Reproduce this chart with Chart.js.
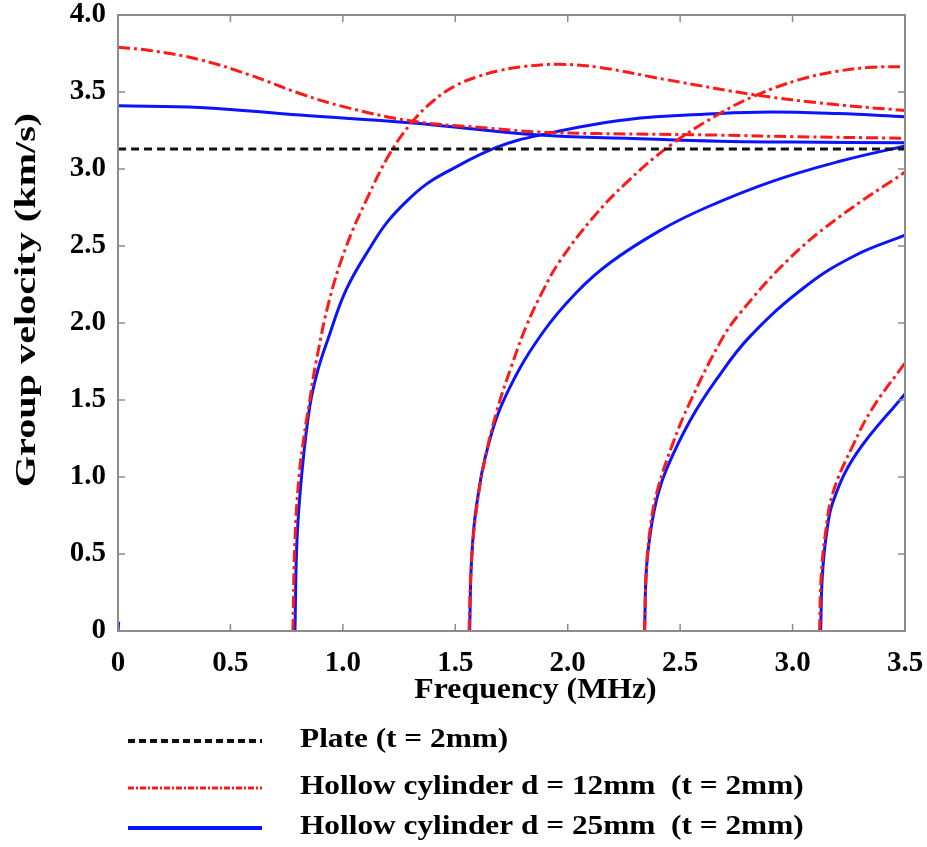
<!DOCTYPE html>
<html>
<head>
<meta charset="utf-8">
<script src="https://cdn.jsdelivr.net/npm/chart.js@4.4.1/dist/chart.umd.min.js"></script>
<style>
  body { margin: 0; background: #fff; }
  #chart { display: block; }
</style>
</head>
<body>
<canvas id="chart" width="927" height="847"></canvas>
<script>
// axis ticks
const xTicks = [0, 0.5, 1.0, 1.5, 2.0, 2.5, 3.0, 3.5];
const yTicks = [0, 0.5, 1.0, 1.5, 2.0, 2.5, 3.0, 3.5, 4.0];

// plate (t = 2mm)
const plateFreq = [0, 3.5];
const plateVel = [3.13, 3.13];

// hollow cylinder d = 12mm, one pair of arrays per mode
const cyl12Mode0Freq = [0, 0.142, 0.364, 0.587, 0.809, 1.016, 1.312, 1.609, 1.876, 2.14, 2.676, 3.0, 3.5];
const cyl12Mode0Vel = [3.79, 3.77, 3.71, 3.61, 3.49, 3.40, 3.31, 3.27, 3.24, 3.23, 3.22, 3.21, 3.20];
const cyl12Mode1Freq = [0.778, 0.787, 0.805, 0.828, 0.853, 0.880, 0.942, 1.016, 1.105, 1.209, 1.305, 1.40, 1.50, 1.60, 1.70, 1.80, 1.96, 2.14, 2.44, 2.84, 3.18, 3.5];
const cyl12Mode1Vel = [0, 0.59, 1.00, 1.27, 1.50, 1.74, 2.16, 2.50, 2.80, 3.10, 3.30, 3.44, 3.54, 3.60, 3.64, 3.665, 3.68, 3.66, 3.58, 3.48, 3.42, 3.38];
const cyl12Mode2Freq = [1.561, 1.572, 1.595, 1.63, 1.683, 1.75, 1.816, 1.89, 1.964, 2.11, 2.26, 2.453, 2.676, 2.84, 3.03, 3.2, 3.35, 3.5];
const cyl12Mode2Vel = [0, 0.45, 0.80, 1.10, 1.42, 1.72, 1.98, 2.21, 2.40, 2.68, 2.91, 3.15, 3.36, 3.48, 3.58, 3.635, 3.66, 3.665];
const cyl12Mode3Freq = [2.342, 2.350, 2.370, 2.40, 2.468, 2.542, 2.676, 2.764, 2.987, 3.209, 3.5];
const cyl12Mode3Vel = [0, 0.40, 0.70, 0.92, 1.22, 1.48, 1.87, 2.06, 2.42, 2.69, 2.98];
const cyl12Mode4Freq = [3.12, 3.127, 3.145, 3.18, 3.27, 3.357, 3.5];
const cyl12Mode4Vel = [0, 0.35, 0.62, 0.90, 1.21, 1.45, 1.74];

// hollow cylinder d = 25mm
const cyl25Stub = [0, 0.003];
const cyl25StubVel = [0, 0.06];
const cyl25Mode0Freq = [0, 0.364, 0.809, 1.298, 1.876, 2.26, 2.676, 3.0, 3.5];
const cyl25Mode0Vel = [3.41, 3.40, 3.35, 3.30, 3.22, 3.20, 3.18, 3.175, 3.17];
const cyl25Mode1Freq = [0.787, 0.796, 0.818, 0.853, 0.89, 0.935, 1.016, 1.134, 1.20, 1.283, 1.37, 1.46, 1.683, 1.876, 2.26, 2.676, 2.9, 3.2, 3.5];
const cyl25Mode1Vel = [0, 0.59, 1.03, 1.46, 1.70, 1.90, 2.22, 2.52, 2.66, 2.79, 2.90, 2.98, 3.14, 3.22, 3.32, 3.36, 3.37, 3.36, 3.34];
const cyl25Mode2Freq = [1.564, 1.572, 1.594, 1.653, 1.742, 1.89, 2.04, 2.187, 2.41, 2.616, 2.91, 3.21, 3.5];
const cyl25Mode2Vel = [0, 0.45, 0.81, 1.24, 1.58, 1.94, 2.20, 2.39, 2.60, 2.75, 2.92, 3.05, 3.15];
const cyl25Mode3Freq = [2.342, 2.350, 2.370, 2.40, 2.439, 2.542, 2.66, 2.809, 3.06, 3.28, 3.5];
const cyl25Mode3Vel = [0, 0.40, 0.66, 0.88, 1.05, 1.36, 1.63, 1.91, 2.24, 2.44, 2.57];
const cyl25Mode4Freq = [3.125, 3.132, 3.15, 3.18, 3.283, 3.5];
const cyl25Mode4Vel = [0, 0.35, 0.62, 0.84, 1.15, 1.54];

const legendLabels = [
  "Plate (t = 2mm)",
  "Hollow cylinder d = 12mm  (t = 2mm)",
  "Hollow cylinder d = 25mm  (t = 2mm)",
];
const xTitle = "Frequency (MHz)";
const yTitle = "Group velocity (km/s)";

const serif = "'Liberation Serif', 'Times New Roman', serif";

const toPoints = (xs, ys) => xs.map((x, i) => ({ x: x, y: ys[i] }));

const plateStyle = { borderColor: "#111111", borderWidth: 3, borderDash: [8, 5] };
const redStyle = { borderColor: "#ff1a1a", borderWidth: 3, borderDash: [12, 4, 3, 4] };
const blueStyle = { borderColor: "#0a14ff", borderWidth: 3, borderDash: [] };

const makeSet = (xs, ys, style, order) => ({
  data: toPoints(xs, ys),
  borderColor: style.borderColor,
  borderWidth: style.borderWidth,
  borderDash: style.borderDash,
  showLine: true,
  pointRadius: 0,
  tension: 0.4,
  fill: false,
  order: order,
});

const datasets = [
  makeSet(plateFreq, plateVel, plateStyle, 0),
  makeSet(cyl12Mode0Freq, cyl12Mode0Vel, redStyle, 1),
  makeSet(cyl12Mode1Freq, cyl12Mode1Vel, redStyle, 1),
  makeSet(cyl12Mode2Freq, cyl12Mode2Vel, redStyle, 1),
  makeSet(cyl12Mode3Freq, cyl12Mode3Vel, redStyle, 1),
  makeSet(cyl12Mode4Freq, cyl12Mode4Vel, redStyle, 1),
  makeSet(cyl25Stub, cyl25StubVel, blueStyle, 2),
  makeSet(cyl25Mode0Freq, cyl25Mode0Vel, blueStyle, 2),
  makeSet(cyl25Mode1Freq, cyl25Mode1Vel, blueStyle, 2),
  makeSet(cyl25Mode2Freq, cyl25Mode2Vel, blueStyle, 2),
  makeSet(cyl25Mode3Freq, cyl25Mode3Vel, blueStyle, 2),
  makeSet(cyl25Mode4Freq, cyl25Mode4Vel, blueStyle, 2),
];

// text drawn a bit wider than the font, like the original figure
const stretchedText = (ctx, text, x, y, rot, sx, font) => {
  ctx.save();
  ctx.translate(x, y);
  ctx.rotate(rot);
  ctx.scale(sx, 1);
  ctx.font = font;
  ctx.fillStyle = "#000";
  ctx.textBaseline = "middle";
  ctx.textAlign = "center";
  ctx.fillText(text, 0, 0);
  ctx.restore();
};

// grey frame with small inward ticks on all four sides
const framePlugin = {
  id: "frame",
  afterDatasetsDraw(chart) {
    const { ctx, chartArea: a, scales } = chart;
    ctx.save();
    ctx.strokeStyle = "#8c8c8c";
    ctx.lineWidth = 2;
    ctx.setLineDash([]);
    ctx.strokeRect(a.left, a.top, a.right - a.left, a.bottom - a.top);
    ctx.lineWidth = 1.5;
    ctx.beginPath();
    xTicks.slice(1, -1).forEach((v) => {
      const px = scales.x.getPixelForValue(v);
      ctx.moveTo(px, a.bottom);
      ctx.lineTo(px, a.bottom - 7);
      ctx.moveTo(px, a.top);
      ctx.lineTo(px, a.top + 7);
    });
    yTicks.slice(1, -1).forEach((v) => {
      const py = scales.y.getPixelForValue(v);
      ctx.moveTo(a.left, py);
      ctx.lineTo(a.left + 7, py);
      ctx.moveTo(a.right, py);
      ctx.lineTo(a.right - 7, py);
    });
    ctx.stroke();
    ctx.restore();
  },
};

// axis titles and legend below the plot
const textPlugin = {
  id: "texts",
  afterDraw(chart) {
    const { ctx, chartArea: a } = chart;
    stretchedText(ctx, xTitle, (a.left + a.right) / 2 + 24, a.bottom + 59, 0, 1.06, "bold 30px " + serif);
    stretchedText(ctx, yTitle, 27, (a.top + a.bottom) / 2 - 23, -Math.PI / 2, 1.34, "bold 30px " + serif);

    const styles = [plateStyle, redStyle, blueStyle];
    const rows = [741, 788, 828];
    ctx.save();
    styles.forEach((s, i) => {
      ctx.beginPath();
      ctx.strokeStyle = s.borderColor;
      ctx.lineWidth = i === 1 ? 3 : 4;
      ctx.setLineDash(i === 0 ? [7, 4] : i === 1 ? [6, 2, 2, 2] : []);
      ctx.moveTo(128, rows[i]);
      ctx.lineTo(262, rows[i]);
      ctx.stroke();
      ctx.setLineDash([]);
      ctx.save();
      ctx.translate(300, rows[i] - 1);
      ctx.scale(1.16, 1);
      ctx.fillStyle = "#000";
      ctx.font = "bold 27px " + serif;
      ctx.textBaseline = "middle";
      ctx.fillText(legendLabels[i], 0, 0);
      ctx.restore();
    });
    ctx.restore();
  },
};

new Chart(document.getElementById("chart"), {
  type: "scatter",
  data: { datasets: datasets },
  options: {
    responsive: false,
    animation: false,
    layout: { padding: { left: 0, right: 22, top: 15, bottom: 137 } },
    plugins: { legend: { display: false }, tooltip: { enabled: false } },
    scales: {
      x: {
        type: "linear",
        min: 0,
        max: 3.5,
        afterFit: (s) => { s.height = 79; s.paddingLeft = 0; s.paddingRight = 0; },
        afterBuildTicks: (s) => { s.ticks = xTicks.map((v) => ({ value: v })); },
        grid: { display: false, drawTicks: false },
        border: { display: false },
        ticks: {
          color: "#000",
          padding: 15,
          maxRotation: 0,
          font: { family: serif, size: 29, weight: "bold" },
          callback: (v) => (v === 0 ? "0" : v.toFixed(1)),
        },
      },
      y: {
        type: "linear",
        min: 0,
        max: 4,
        afterFit: (s) => { s.width = 118; s.paddingTop = 0; s.paddingBottom = 0; },
        afterBuildTicks: (s) => { s.ticks = yTicks.map((v) => ({ value: v })); },
        grid: { display: false, drawTicks: false },
        border: { display: false },
        ticks: {
          color: "#000",
          padding: 12,
          font: { family: serif, size: 29, weight: "bold" },
          callback: (v) => (v === 0 ? "0" : v.toFixed(1)),
        },
      },
    },
  },
  plugins: [framePlugin, textPlugin],
});
</script>
</body>
</html>
